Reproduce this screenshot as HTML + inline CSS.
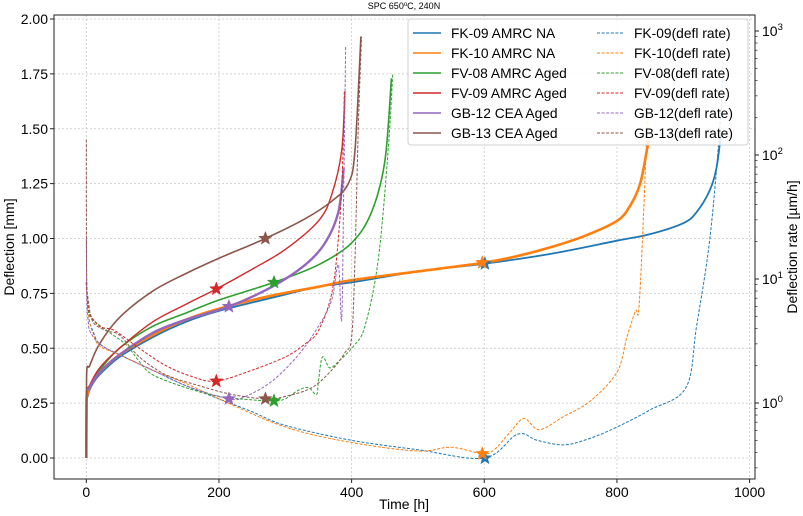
<!DOCTYPE html>
<html><head><meta charset="utf-8"><style>
html,body{margin:0;padding:0;background:#fff;}
svg{display:block;font-family:"Liberation Sans","DejaVu Sans",sans-serif;}
</style></head><body>
<svg id="chart" width="803" height="516" viewBox="0 0 803 516" xmlns="http://www.w3.org/2000/svg">
<defs><clipPath id="plotclip"><rect x="54" y="15" width="701" height="464"/></clipPath></defs>
<rect x="0" y="0" width="803" height="516" fill="#fff"/>
<text x="404" y="9" font-size="9" text-anchor="middle">SPC 650<tspan font-size="6" dy="-3">o</tspan><tspan dy="3">C, 240N</tspan></text>
<g id="grid"></g>
<g id="series" clip-path="url(#plotclip)"></g>
<rect x="54" y="15" width="701" height="464" fill="none" stroke="#222" stroke-width="1"/>
<g id="axes"></g>
<text x="404" y="509" font-size="14" text-anchor="middle">Time [h]</text>
<text transform="translate(14,247) rotate(-90)" font-size="14" text-anchor="middle">Deflection [mm]</text>
<text transform="translate(797,247) rotate(-90)" font-size="14" text-anchor="middle">Deflection rate [µm/h]</text>
<g id="legend"></g>
</svg>
<script>
// ---- data ----
const xTicks = [0,200,400,600,800,1000];
const yTicks = [0,0.25,0.5,0.75,1.0,1.25,1.5,1.75,2.0];
const yTickLabels = ["0.00","0.25","0.50","0.75","1.00","1.25","1.50","1.75","2.00"];
const rTicks = [1,10,100,1000];
const rTickExps = ["0","1","2","3"];
const seriesNames = ["FK-09 AMRC NA","FK-10 AMRC NA","FV-08 AMRC Aged","FV-09 AMRC Aged","GB-12 CEA Aged","GB-13 CEA Aged"];
const rateNames = ["FK-09(defl rate)","FK-10(defl rate)","FV-08(defl rate)","FV-09(defl rate)","GB-12(defl rate)","GB-13(defl rate)"];
const colors = ["#1f77b4","#ff7f0e","#2ca02c","#d62728","#9467bd","#8c564b"];

const fk09T = [0,0.5,2,5,10,20,50,100,150,200,280,350,400,500,600,700,800,850,900,920,940,950,957];
const fk09D = [0,0.25,0.28,0.31,0.34,0.38,0.46,0.55,0.62,0.67,0.73,0.78,0.80,0.85,0.885,0.93,0.99,1.02,1.07,1.12,1.22,1.32,1.48];
const fk10T = [0,0.5,2,5,10,20,50,100,150,200,280,350,400,500,600,650,700,750,800,820,835,845,848];
const fk10D = [0,0.26,0.29,0.32,0.35,0.39,0.47,0.56,0.63,0.68,0.74,0.78,0.81,0.85,0.89,0.92,0.96,1.01,1.08,1.15,1.25,1.40,1.45];
const fv08T = [0,0.5,5,20,50,100,150,200,283,350,400,430,450,460];
const fv08D = [0,0.28,0.33,0.40,0.50,0.60,0.66,0.72,0.80,0.88,0.98,1.12,1.35,1.73];
const fv09T = [0,0.5,5,20,50,100,150,196,250,300,350,370,385,390];
const fv09D = [0,0.28,0.33,0.41,0.50,0.62,0.70,0.77,0.86,0.95,1.08,1.20,1.40,1.67];
const gb12T = [0,0.5,5,20,50,100,150,215,280,330,360,380,388];
const gb12D = [0,0.28,0.32,0.39,0.47,0.57,0.63,0.69,0.78,0.88,0.98,1.12,1.32];
const gb13T = [0,0.5,5,20,50,100,150,200,270,330,370,395,405,414];
const gb13D = [0,0.38,0.42,0.52,0.64,0.76,0.84,0.91,1.00,1.09,1.17,1.25,1.40,1.92];

const fk09RT = [0,2,5,10,20,50,100,150,200,250,300,400,500,600,650,680,720,760,800,850,904,920,940,955,960];
const fk09R = [9.39,6.25,4.51,3.83,3.0,2.45,1.84,1.38,1.08,0.85,0.66,0.50,0.42,0.36,0.56,0.50,0.46,0.52,0.64,0.88,1.33,4.15,21,163,553];
const fk10RT = [0,2,5,10,20,50,100,150,200,300,400,500,550,597,615,640,660,683,720,760,800,815,828,833,840,848];
const fk10R = [9.39,6.25,4.51,3.67,2.88,2.45,1.84,1.44,1.08,0.64,0.48,0.41,0.44,0.39,0.42,0.59,0.75,0.61,0.78,1.04,1.77,3.39,5.53,5.75,31.9,433];
const fv08RT = [0,2,5,16,35,60,80,100,150,200,250,283,300,320,335,347,350,356,367,380,403,420,440,455,462];
const fv08R = [9.39,6.25,5.09,4.40,3.70,2.95,2.16,1.69,1.33,1.13,1.06,1.04,1.08,1.27,1.33,1.17,1.50,2.35,1.92,2.16,2.88,4.15,14.1,108,451];
const fv09RT = [0,2,5,20,43,80,120,160,196,250,300,330,350,370,380,386,389];
const fv09R = [9.39,6.77,5.31,4.15,3.83,2.76,2.0,1.63,1.50,1.84,2.35,3.0,3.83,7.66,21.2,72,325];
const gb12RT = [0,1,3,5,20,50,100,150,215,240,280,320,350,370,380,385,388,391];
const gb12R = [21.2,6.25,4.51,3.83,3.0,2.45,1.84,1.38,1.08,1.13,1.50,2.45,4.15,6.77,13.0,4.69,47.9,766];
const gb13RT = [0,0.5,3,10,30,50,80,120,170,220,270,300,340,370,390,400,405,410,415];
const gb13R = [133,11.5,6.77,4.51,3.83,3.53,2.35,1.69,1.38,1.17,1.08,1.13,1.33,1.84,2.55,3.39,14.1,163,902];

const starT = [601,597,283,196,215,270];
const starD = [0.885,0.89,0.80,0.77,0.69,1.00];
const starRT = [601,597,283,196,215,270];
const starR = [0.36,0.39,1.04,1.50,1.08,1.08];

// ---- axes ----
const NS="http://www.w3.org/2000/svg";
function xS(t){return 86.3+0.6633*t;}
function yL(v){return 458-219.5*v;}
function yR(r){return 403-124*Math.log10(r);}
function mk(tag,attrs,parent){const e=document.createElementNS(NS,tag);for(const k in attrs)e.setAttribute(k,attrs[k]);parent.appendChild(e);return e;}
const grid=document.getElementById('grid'),axes=document.getElementById('axes'),ser=document.getElementById('series'),leg=document.getElementById('legend');

xTicks.forEach(t=>{
  const g=mk('line',{x1:xS(t),x2:xS(t),y1:15,y2:479,stroke:'#c8c8c8','stroke-width':0.8,'stroke-dasharray':'2,2'},grid);
  
  
  const tk=mk('line',{x1:xS(t),x2:xS(t),y1:479,y2:483,stroke:'#222'},axes);
  
  
  const lb=mk('text',{x:xS(t),y:497,'font-size':14,'text-anchor':'middle'},axes);
  lb.textContent=t;
  
  
});
yTicks.forEach((v,i)=>{
  const g=mk('line',{x1:54,x2:755,y1:yL(v),y2:yL(v),stroke:'#c8c8c8','stroke-width':0.8,'stroke-dasharray':'2,2'},grid);
  
  
  const tk=mk('line',{x1:50,x2:54,y1:yL(v),y2:yL(v),stroke:'#222'},axes);
  
  
  const lb=mk('text',{x:48,y:yL(v)+5,'font-size':14,'text-anchor':'end'},axes);
  lb.textContent=yTickLabels[i];
  
  
});
rTicks.forEach((r,i)=>{
  const tk=mk('line',{x1:755,x2:759,y1:yR(r),y2:yR(r),stroke:'#222'},axes);
  
  
  const lb=mk('text',{x:762,y:yR(r)+5,'font-size':14},axes);
  lb.innerHTML='10<tspan font-size="9.5" dy="-6">'+rTickExps[i]+'</tspan>';
  
  
});
for(let d=-1;d<=3;d++){for(let m=2;m<=9;m++){const r=m*Math.pow(10,d);const y=yR(r);if(y<15||y>479)continue;
  const tk=mk('line',{x1:755,x2:757.5,y1:y,y2:y,stroke:'#222','stroke-width':0.7},axes);
  
  
}}

function pathFrom(ts,vs,yf){
  const p=ts.map((t,i)=>[xS(t),yf(vs[i])]);
  let d='M'+p[0][0].toFixed(2)+','+p[0][1].toFixed(2);
  for(let i=0;i<p.length-1;i++){
    const p0=p[i-1]||p[i],p1=p[i],p2=p[i+1],p3=p[i+2]||p2;
    const k=1/6;
    let c1=[p1[0]+(p2[0]-p0[0])*k,p1[1]+(p2[1]-p0[1])*k];
    let c2=[p2[0]-(p3[0]-p1[0])*k,p2[1]-(p3[1]-p1[1])*k];
    c1[0]=Math.min(Math.max(c1[0],p1[0]),p2[0]);c2[0]=Math.min(Math.max(c2[0],p1[0]),p2[0]);
    d+=' C'+c1[0].toFixed(2)+','+c1[1].toFixed(2)+' '+c2[0].toFixed(2)+','+c2[1].toFixed(2)+' '+p2[0].toFixed(2)+','+p2[1].toFixed(2);
  }
  return d;
}
function star(cx,cy,R,col,parent){
  let pts=[];for(let i=0;i<10;i++){const a=-Math.PI/2+i*Math.PI/5;const rr=i%2?R*0.42:R;pts.push((cx+rr*Math.cos(a)).toFixed(2)+','+(cy+rr*Math.sin(a)).toFixed(2));}
  return mk('polygon',{points:pts.join(' '),fill:col,stroke:col,'stroke-width':0.5},parent);
}

const solids=[[fk09T,fk09D],[fk10T,fk10D],[fv08T,fv08D],[fv09T,fv09D],[gb12T,gb12D],[gb13T,gb13D]];
const widths=[1.8,2.6,1.6,1.4,2.4,1.6];
const rates=[[fk09RT,fk09R],[fk10RT,fk10R],[fv08RT,fv08R],[fv09RT,fv09R],[gb12RT,gb12R],[gb13RT,gb13R]];
const solidNames=['fk09-deflection-line','fk10-deflection-line','fv08-deflection-line','fv09-deflection-line','gb12-deflection-line','gb13-deflection-line'];
const rateNamesK=['fk09-rate-line','fk10-rate-line','fv08-rate-line','fv09-rate-line','gb12-rate-line','gb13-rate-line'];

solids.forEach((s,i)=>{
  const p=mk('path',{d:pathFrom(s[0],s[1],yL),fill:'none',stroke:colors[i],'stroke-width':widths[i],'stroke-linejoin':'round'},ser);
  
  
});
solids.forEach((s,i)=>{
  const st=star(xS(starT[i]),yL(starD[i]),7,colors[i],ser);
  
  
});
rates.forEach((s,i)=>{
  const p=mk('path',{d:pathFrom(s[0],s[1],yR),fill:'none',stroke:colors[i],'stroke-width':1,'stroke-dasharray':'3,1.6'},ser);
  
  
});
rates.forEach((s,i)=>{
  const st=star(xS(starRT[i]),yR(starR[i]),7,colors[i],ser);
  
  
});

// legend
const box=mk('rect',{x:408,y:19,width:340,height:126,rx:3,fill:'#fff','fill-opacity':0.85,stroke:'#d0d0d0'},leg);


seriesNames.forEach((n,i)=>{
  const y=33+i*20;
  const l=mk('line',{x1:413,x2:441,y1:y,y2:y,stroke:colors[i],'stroke-width':1.5},leg);
  
  
  const t=mk('text',{x:451,y:y+5,'font-size':13.8},leg);
  t.textContent=n;
  
  
  const l2=mk('line',{x1:597,x2:623,y1:y,y2:y,stroke:colors[i],'stroke-width':1,'stroke-dasharray':'3,1.6'},leg);
  
  
  const t2=mk('text',{x:634,y:y+5,'font-size':13.8},leg);
  t2.textContent=rateNames[i];
  
  
});
</script>
</body></html>
